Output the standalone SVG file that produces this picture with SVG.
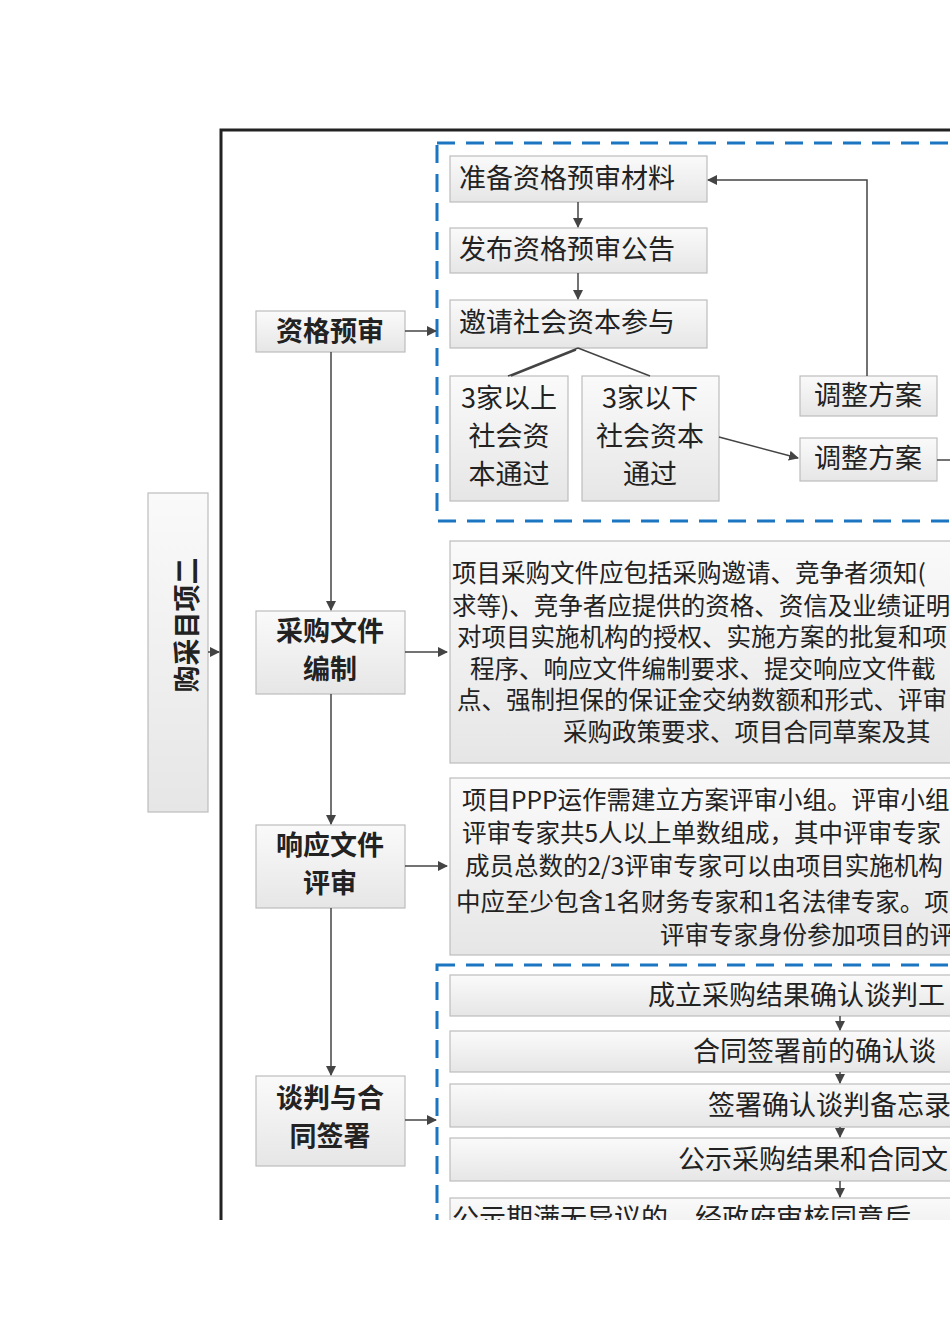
<svg xmlns="http://www.w3.org/2000/svg" width="950" height="1344" viewBox="0 0 950 1344">
<defs>
<linearGradient id="g" x1="0" y1="0" x2="0" y2="1"><stop offset="0" stop-color="#fafafa"/><stop offset="1" stop-color="#e6e6e6"/></linearGradient>
<linearGradient id="gh" x1="0" y1="0" x2="1" y2="0"><stop offset="0" stop-color="#f8f8f8"/><stop offset="1" stop-color="#e6e6e6"/></linearGradient>
<marker id="a" markerWidth="10" markerHeight="10" refX="9" refY="5" orient="auto" markerUnits="userSpaceOnUse"><path d="M0,0 L10,5 L0,10 z" fill="#444"/></marker>
<clipPath id="c"><rect x="0" y="0" width="950" height="1220"/></clipPath>
</defs>
<style>
.n{fill:url(#g);stroke:#bdbdbd;stroke-width:1.2}
.t{font-family:"Noto Sans CJK SC","Liberation Sans",sans-serif;fill:#222}
.b{font-weight:bold;font-size:27px}
.m{font-size:27px}
.s{font-size:24.5px}
.l{stroke:#444;stroke-width:1.5;fill:none}
.d{stroke:#1b75c0;stroke-width:3;fill:none;stroke-dasharray:18 11}
</style>
<rect width="950" height="1344" fill="#fff"/>
<g clip-path="url(#c)">
<rect x="221" y="130" width="760" height="1200" fill="none" stroke="#222" stroke-width="3"/>
<rect id="grp1" class="d" x="437" y="143" width="560" height="378"/>
<rect id="grp2" class="d" x="437" y="965" width="560" height="400"/>

<g id="root"><rect class="n" x="148" y="493" width="60" height="319" fill="url(#gh)"/><text class="t b" transform="translate(197,625) rotate(-90)" text-anchor="middle">购采目项二</text></g>

<g id="zgys"><rect class="n" x="256" y="311" width="149" height="41"/><text class="t b" x="330" y="341" text-anchor="middle">资格预审</text></g>
<g id="cgwj"><rect class="n" x="256" y="611" width="149" height="83"/><text class="t b" x="330" y="641" text-anchor="middle">采购文件</text><text class="t b" x="330" y="679" text-anchor="middle">编制</text></g>
<g id="xywj"><rect class="n" x="256" y="825" width="149" height="83"/><text class="t b" x="330" y="855" text-anchor="middle">响应文件</text><text class="t b" x="330" y="893" text-anchor="middle">评审</text></g>
<g id="tp"><rect class="n" x="256" y="1076" width="149" height="90"/><text class="t b" x="330" y="1108" text-anchor="middle">谈判与合</text><text class="t b" x="330" y="1146" text-anchor="middle">同签署</text></g>

<g id="zb"><rect class="n" x="450" y="156" width="257" height="46"/><text class="t m" x="459" y="188">准备资格预审材料</text></g>
<g id="fb"><rect class="n" x="450" y="228" width="257" height="45"/><text class="t m" x="459" y="259">发布资格预审公告</text></g>
<g id="yq"><rect class="n" x="450" y="300" width="257" height="48"/><text class="t m" x="459" y="332">邀请社会资本参与</text></g>
<g id="ys"><rect class="n" x="450" y="376" width="118" height="125"/><text class="t m" x="509" y="408" text-anchor="middle">3家以上</text><text class="t m" x="509" y="446" text-anchor="middle">社会资</text><text class="t m" x="509" y="484" text-anchor="middle">本通过</text></g>
<g id="yx"><rect class="n" x="582" y="376" width="137" height="125"/><text class="t m" x="650" y="408" text-anchor="middle">3家以下</text><text class="t m" x="650" y="446" text-anchor="middle">社会资本</text><text class="t m" x="650" y="484" text-anchor="middle">通过</text></g>
<g id="tz1"><rect class="n" x="800" y="376" width="137" height="40"/><text class="t m" x="868" y="405" text-anchor="middle">调整方案</text></g>
<g id="tz2"><rect class="n" x="800" y="438" width="137" height="43"/><text class="t m" x="868" y="468" text-anchor="middle">调整方案</text></g>

<g id="txt1"><rect class="n" x="450" y="541" width="560" height="222"/>
<text class="t s" x="452" y="582">项目采购文件应包括采购邀请、竞争者须知(</text>
<text class="t s" x="452" y="615">求等)、竞争者应提供的资格、资信及业绩证明</text>
<text class="t s" x="457" y="646">对项目实施机构的授权、实施方案的批复和项</text>
<text class="t s" x="470" y="678">程序、响应文件编制要求、提交响应文件截</text>
<text class="t s" x="457" y="709">点、强制担保的保证金交纳数额和形式、评审</text>
<text class="t s" x="563" y="741">采购政策要求、项目合同草案及其</text></g>
<g id="txt2"><rect class="n" x="450" y="778" width="560" height="177"/>
<text class="t s" x="462" y="809">项目PPP运作需建立方案评审小组。评审小组</text>
<text class="t s" x="462" y="842">评审专家共5人以上单数组成，其中评审专家</text>
<text class="t s" x="465" y="875">成员总数的2/3评审专家可以由项目实施机构</text>
<text class="t s" x="456" y="911">中应至少包含1名财务专家和1名法律专家。项</text>
<text class="t s" x="660" y="944">评审专家身份参加项目的评</text></g>

<g id="r1"><rect class="n" x="450" y="975" width="560" height="41"/><text class="t m" x="648" y="1005">成立采购结果确认谈判工</text></g>
<g id="r2"><rect class="n" x="450" y="1031" width="560" height="41"/><text class="t m" x="693" y="1061">合同签署前的确认谈</text></g>
<g id="r3"><rect class="n" x="450" y="1084" width="560" height="43"/><text class="t m" x="708" y="1115">签署确认谈判备忘录</text></g>
<g id="r4"><rect class="n" x="450" y="1138" width="560" height="43"/><text class="t m" x="678" y="1169">公示采购结果和合同文</text></g>
<g id="r5"><rect class="n" x="450" y="1198" width="560" height="60"/><text class="t m" x="452" y="1228">公示期满无异议的，经政府审核同意后</text></g>

<g id="connectors">
<path class="l" d="M208,652 H219" marker-end="url(#a)"/>
<path class="l" d="M405,331 H436" marker-end="url(#a)"/>
<path class="l" d="M405,652 H447" marker-end="url(#a)"/>
<path class="l" d="M405,866 H447" marker-end="url(#a)"/>
<path class="l" d="M405,1120 H436" marker-end="url(#a)"/>
<path class="l" d="M331,352 V610" marker-end="url(#a)"/>
<path class="l" d="M331,694 V824" marker-end="url(#a)"/>
<path class="l" d="M331,908 V1075" marker-end="url(#a)"/>
<path class="l" d="M578,202 V227" marker-end="url(#a)"/>
<path class="l" d="M578,273 V299" marker-end="url(#a)"/>
<path class="l" d="M578,348 L508,376 M578,348 L650,376 M576,350 L511,376"/>
<path class="l" d="M719,437 L798,458" marker-end="url(#a)"/>
<path class="l" d="M867,376 V180 H708" marker-end="url(#a)"/>
<path class="l" d="M937,460 H950"/>
<path class="l" d="M840,1016 V1030" marker-end="url(#a)"/>
<path class="l" d="M840,1072 V1083" marker-end="url(#a)"/>
<path class="l" d="M840,1127 V1137" marker-end="url(#a)"/>
<path class="l" d="M840,1181 V1197" marker-end="url(#a)"/>
</g>
</g>
</svg>
